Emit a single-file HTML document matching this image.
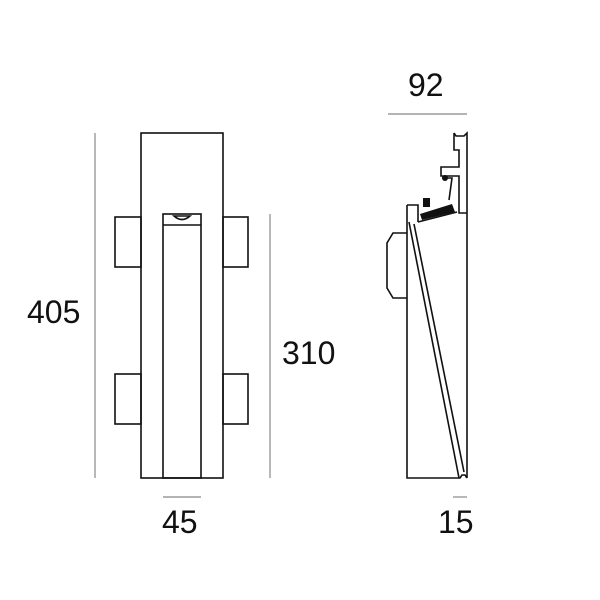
<!DOCTYPE html><html><head><style>body{margin:0;background:#fff}svg{display:block}text{font-family:"Liberation Sans",sans-serif;font-size:32px;fill:#111}</style></head><body>
<svg width="600" height="600" viewBox="0 0 600 600">
<g fill="none" stroke="#111" stroke-width="1.6">
<rect x="141" y="133" width="82" height="345"/>
<rect x="163" y="214" width="38" height="264"/>
<line x1="163" y1="225" x2="201" y2="225"/>
<path d="M174 216 Q182 223 190 216 Z"/>
<rect x="115" y="217" width="26" height="50"/>
<rect x="115" y="374" width="26" height="50"/>
<rect x="223" y="217" width="25" height="50"/>
<rect x="223" y="374" width="25" height="50"/>
<!-- side -->
<path d="M407 205 L407 478 L460 478 L462 475 L465 475 L467 478"/>
<path d="M407 205 L418 205 L418 222"/>
<path d="M454 133 L454 150 L459 150 L459 167 L441 167 L441 176 L459 176 L459 213 L467 213"/>
<path d="M454 133 L456 136 L464 136 L467 133 L467 478"/>
<path d="M418 222 L457 212"/>
<path d="M409 222 L459 478"/>
<path d="M414 224 L464 472"/>
<path d="M442 178 L452 178 L449 200"/>
<path d="M407 233 L393 233 L387 243 L387 288 L393 298 L407 298"/>
</g>
<g fill="#111"><path d="M420 214 L452 204 L455 212 L422 220Z"/><rect x="423" y="198" width="7" height="9"/><circle cx="445" cy="178" r="3"/></g>
<g stroke="#888" stroke-width="1.2">
<line x1="95" y1="133" x2="95" y2="478"/>
<line x1="270" y1="214" x2="270" y2="478"/>
<line x1="163" y1="497" x2="201" y2="497"/>
<line x1="388" y1="114" x2="467" y2="114"/>
<line x1="453" y1="497" x2="467" y2="497"/>
</g>
<text x="27" y="323">405</text>
<text x="282" y="364">310</text>
<text x="162" y="533">45</text>
<text x="408" y="96">92</text>
<text x="438" y="533">15</text>
</svg></body></html>
